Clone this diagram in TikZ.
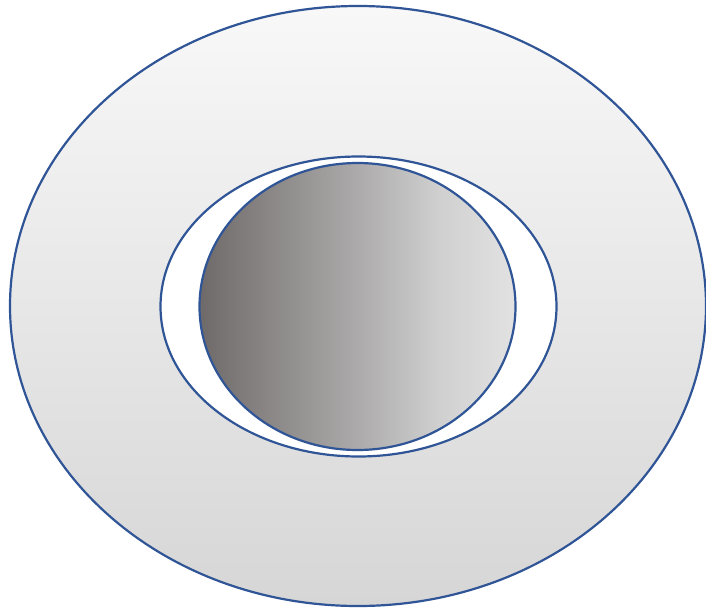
\documentclass[tikz,border=0pt]{standalone}
\usepackage{tikz}
\definecolor{ringblue}{RGB}{47,85,151}
\definecolor{shadetop}{RGB}{248,248,248}
\definecolor{shadebot}{RGB}{214,214,214}
\definecolor{coredark}{RGB}{111,106,106}
\definecolor{coremid}{RGB}{172,170,170}
\definecolor{corepale}{RGB}{208,208,208}
\definecolor{corelight}{RGB}{226,226,226}
\pgfdeclarehorizontalshading{coreshade}{100bp}{color(0bp)=(coredark); color(25bp)=(coredark);
  color(50bp)=(coremid); color(63bp)=(corepale); color(75bp)=(corelight); color(100bp)=(corelight)}
\tikzset{
  rim/.style={draw=ringblue,line width=2.2pt},
}
\begin{document}
\begin{tikzpicture}[x=1pt,y=-1pt]
  \useasboundingbox (0,0) rectangle (706,608);
  % outer disc
  \path[rim,top color=shadetop,bottom color=shadebot] (358,306) ellipse [x radius=348,y radius=300];
  % white hollow
  \path[rim,fill=white] (358.5,306.5) ellipse [x radius=198,y radius=150];
  % shaded core
  \path[rim,shading=coreshade] (357.5,306.5) ellipse [x radius=158,y radius=143.5];
\end{tikzpicture}
\end{document}
